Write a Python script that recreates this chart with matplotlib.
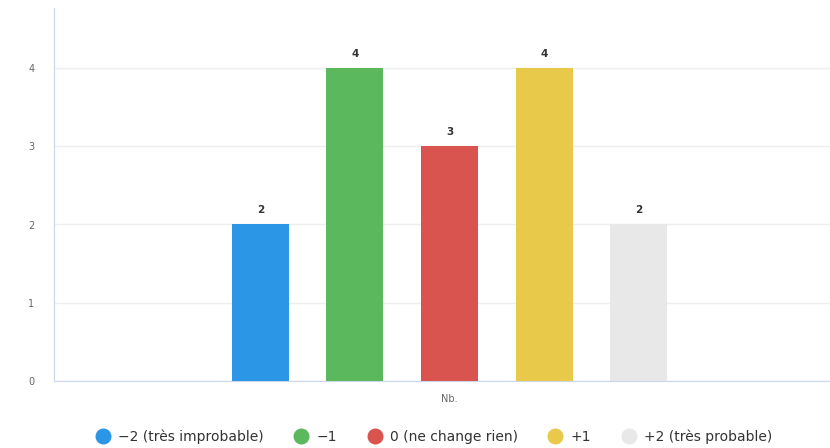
import matplotlib
matplotlib.use("Agg")
import matplotlib.pyplot as plt
from matplotlib.lines import Line2D

category = ["Nb."]
series_names = ["−2 (très improbable)", "−1", "0 (ne change rien)", "+1", "+2 (très probable)"]
values = [2, 4, 3, 4, 2]
colors = ["#2b95e6", "#5cb85c", "#d9534f", "#e8c94a", "#e8e8e8"]
yticks = [0, 1, 2, 3, 4]

plt.rcParams['font.family'] = ['DejaVu Sans']

fig = plt.figure(figsize=(8.30, 4.48), dpi=100)
ax = fig.add_axes([54/830, 1 - 381/448, (845-54)/830, (381-8)/448])

n = len(values)
spacing = 94.6 / 791
width = 57 / 791
for i, (name, v, c) in enumerate(zip(series_names, values, colors)):
    x = (i - (n - 1) / 2) * spacing
    ax.bar(x, v, width=width, color=c, label=name, zorder=3)
    ax.text(x, v + 0.12, str(v), ha="center", va="bottom", fontsize=7.5,
            fontweight="bold", color="#333333", zorder=4)

ax.set_xlim(-0.5, 0.5)
ax.set_ylim(0, 373 / 78.25)
ax.set_yticks(yticks)
ax.set_yticklabels([str(t) for t in yticks], fontsize=7, color="#666666")
ax.set_xticks([0])
ax.set_xticklabels(category, fontsize=7, color="#666666")
ax.tick_params(axis="both", length=0, pad=14)
ax.tick_params(axis="x", pad=9)
ax.grid(axis="y", color="#eeeeee", linewidth=1, zorder=0)
for s in ["top", "right"]:
    ax.spines[s].set_visible(False)
ax.spines["left"].set_color("#ccd6eb")
ax.spines["bottom"].set_color("#ccd6eb")

handles = [Line2D([0], [0], marker="o", linestyle="none", markersize=10.5,
                  markerfacecolor=c, markeredgecolor=c) for c in colors]
fig.legend(handles, series_names, loc="center", bbox_to_anchor=(434/830, 1 - 437/448),
           ncol=5, frameon=False, fontsize=10, handlelength=1.0, handletextpad=0.6,
           columnspacing=2.2, labelcolor="#333333")

fig.savefig("out.png", dpi=100)
